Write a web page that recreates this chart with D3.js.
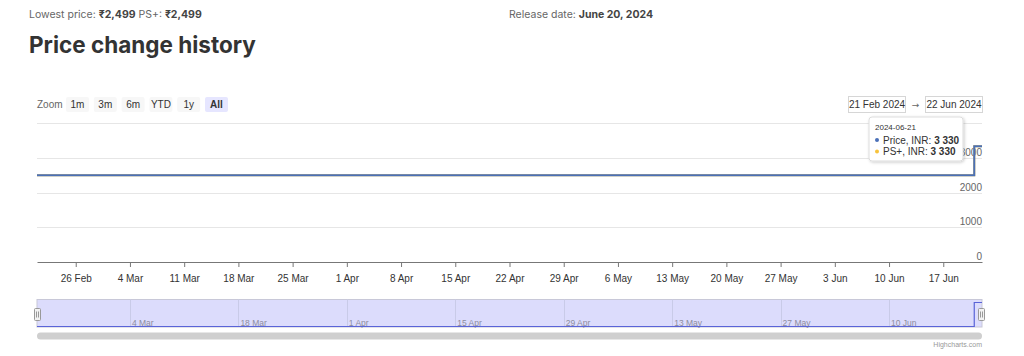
<!DOCTYPE html>
<html>
<head>
<meta charset="utf-8">
<script src="https://cdn.jsdelivr.net/npm/d3@7/dist/d3.min.js"></script>
<style>
  html, body { margin: 0; padding: 0; background: #fff; }
  svg { display: block; }
</style>
</head>
<body>
<svg id="chart" width="1024" height="356"></svg>
<script>
// ---- data ----
const dates = ["2024-02-21", "2024-06-21", "2024-06-22"];
const priceValues = [2499, 3330, 3330];
const psPlusValues = [2499, 3330, 3330];
const yTicks = [0, 1000, 2000, 3000, 4000];
const yTickLabels = ["0", "1000", "2000", "3000", ""];
const zoomButtons = ["1m", "3m", "6m", "YTD", "1y", "All"];
const navTickDates = ["2024-03-04", "2024-03-18", "2024-04-01", "2024-04-15", "2024-04-29", "2024-05-13", "2024-05-27", "2024-06-10"];
const rangeFrom = "21 Feb 2024";
const rangeTo = "22 Jun 2024";
const tooltipDate = "2024-06-21";

const parse = d3.timeParse("%Y-%m-%d");
const priceData = dates.map((d, i) => ({ date: parse(d), value: priceValues[i] }));
const psData = dates.map((d, i) => ({ date: parse(d), value: psPlusValues[i] }));

const svg = d3.select("#chart");
const chartFont = "'Liberation Sans', Arial, sans-serif";
const headFont = "Inter, 'Noto Sans', sans-serif";

// ---- header ----
const h1 = svg.append("text").attr("x", 29).attr("y", 18)
  .style("font-family", headFont).style("font-size", "10.5px").attr("fill", "#666");
h1.append("tspan").text("Lowest price: ");
h1.append("tspan").attr("font-weight", 700).attr("fill", "#444").text("₹2,499");
h1.append("tspan").text(" PS+: ");
h1.append("tspan").attr("font-weight", 700).attr("fill", "#444").text("₹2,499");

const h2 = svg.append("text").attr("x", 509).attr("y", 18)
  .style("font-family", headFont).style("font-size", "10.5px").attr("fill", "#666");
h2.append("tspan").text("Release date: ");
h2.append("tspan").attr("font-weight", 700).attr("fill", "#444").text("June 20, 2024");

svg.append("text").attr("x", 29).attr("y", 53)
  .style("font-family", headFont).style("font-size", "22.5px").attr("font-weight", 700)
  .attr("fill", "#333").text("Price change history");

// ---- scales ----
const x = d3.scaleTime().domain([parse("2024-02-21"), parse("2024-06-22")]).range([37, 982]);
const y = d3.scaleLinear().domain([0, 4000]).range([262, 123]);

// ---- range selector ----
svg.append("text").attr("x", 37).attr("y", 108).style("font-family", chartFont)
  .style("font-size", "10px").attr("fill", "#666").text("Zoom");
const btn = svg.append("g").selectAll("g").data(zoomButtons).join("g")
  .attr("transform", (d, i) => `translate(${66 + i * 27.8},97)`);
btn.append("rect").attr("width", 23).attr("height", 15).attr("rx", 2)
  .attr("fill", (d, i) => i === zoomButtons.length - 1 ? "#e6e6ff" : "#f7f7f7");
btn.append("text").attr("x", 11.5).attr("y", 11).attr("text-anchor", "middle")
  .style("font-family", chartFont).style("font-size", "10px")
  .attr("font-weight", (d, i) => i === zoomButtons.length - 1 ? 700 : 400)
  .attr("fill", "#333").text(d => d);

// date inputs
[[848, rangeFrom], [925, rangeTo]].forEach(([bx, t]) => {
  svg.append("rect").attr("x", bx + 0.5).attr("y", 96.5).attr("width", 57).attr("height", 16)
    .attr("fill", "#fff").attr("stroke", "#d6d6d6");
  svg.append("text").attr("x", bx + 29).attr("y", 108).attr("text-anchor", "middle")
    .style("font-family", chartFont).style("font-size", "10px").attr("fill", "#333").text(t);
});
svg.append("text").attr("x", 915.5).attr("y", 108).attr("text-anchor", "middle")
  .style("font-family", "'DejaVu Sans', sans-serif").style("font-size", "9px").attr("fill", "#666").text("→");

// ---- gridlines ----
svg.append("g").selectAll("line").data(yTicks.slice(1)).join("line")
  .attr("x1", 37).attr("x2", 982)
  .attr("y1", d => Math.round(y(d)) + 0.5).attr("y2", d => Math.round(y(d)) + 0.5)
  .attr("stroke", "#e6e6e6");

// y labels
svg.append("g").selectAll("text").data(yTicks).join("text")
  .attr("x", 982).attr("y", d => y(d) - 2).attr("text-anchor", "end")
  .style("font-family", chartFont).style("font-size", "10px").attr("fill", "#666")
  .text((d, i) => yTickLabels[i]);

// ---- x axis ----
const xAxis = d3.axisBottom(x).ticks(d3.timeMonday.every(1)).tickFormat(d3.timeFormat("%-d %b"))
  .tickSize(5).tickSizeOuter(0);
const gx = svg.append("g").attr("transform", "translate(0,262)").call(xAxis);
gx.select(".domain").attr("stroke", "#777");
gx.selectAll(".tick line").attr("stroke", "#777");
gx.selectAll(".tick text").attr("dy", 0).attr("y", 20)
  .style("font-family", chartFont).style("font-size", "10px").attr("fill", "#333");

// ---- series ----
const line = d3.line().x(d => x(d.date)).y(d => y(d.value)).curve(d3.curveStepAfter);
svg.append("path").datum(psData).attr("d", line).attr("fill", "none")
  .attr("stroke", "#f7c33c").attr("stroke-width", 2);
svg.append("path").datum(priceData).attr("d", line).attr("fill", "none")
  .attr("stroke", "#4a70b8").attr("stroke-width", 2);

// ---- tooltip ----
const defs = svg.append("defs");
const f = defs.append("filter").attr("id", "sh").attr("x", "-20%").attr("y", "-20%")
  .attr("width", "150%").attr("height", "150%");
f.append("feDropShadow").attr("dx", 1).attr("dy", 1).attr("stdDeviation", 1.5)
  .attr("flood-color", "#000").attr("flood-opacity", 0.2);
const tt = svg.append("g").attr("transform", "translate(869,117)");
tt.append("rect").attr("width", 94).attr("height", 44).attr("rx", 3)
  .attr("fill", "#fff").attr("stroke", "#ddd").attr("filter", "url(#sh)");
tt.append("text").attr("x", 6).attr("y", 12.5).style("font-family", chartFont)
  .style("font-size", "8px").attr("fill", "#333").text(tooltipDate);
const ttRows = [["Price, INR: ", priceValues[1], "#4a70b8"], ["PS+, INR: ", psPlusValues[1], "#f7c33c"]];
const fmtSp = v => d3.format(",")(v).replace(/,/g, " ");
ttRows.forEach(([lab, v, c], i) => {
  const ty = 26.5 + i * 11.5;
  tt.append("circle").attr("cx", 8).attr("cy", ty - 3.5).attr("r", 2).attr("fill", c);
  const t = tt.append("text").attr("x", 14).attr("y", ty).style("font-family", chartFont)
    .style("font-size", "10px").attr("fill", "#333");
  t.append("tspan").text(lab);
  t.append("tspan").attr("font-weight", 700).text(fmtSp(v));
});

// ---- navigator ----
const navTop = 299.5, navBottom = 327;
svg.append("rect").attr("x", 37).attr("y", navTop).attr("width", 945).attr("height", navBottom - navTop)
  .attr("fill", "#dcdcfc").attr("stroke", "#c8c8d8");
const navTicks = navTickDates.map(parse);
svg.append("g").selectAll("line").data(navTicks).join("line")
  .attr("x1", d => Math.round(x(d)) + 0.5).attr("x2", d => Math.round(x(d)) + 0.5)
  .attr("y1", navTop).attr("y2", navBottom).attr("stroke", "#c9cbe8");
svg.append("g").selectAll("text").data(navTicks).join("text")
  .attr("x", d => x(d) + 2).attr("y", 326)
  .style("font-family", chartFont).style("font-size", "8.5px").attr("fill", "#8c8c9c")
  .text(d => d3.timeFormat("%-d %b")(d));
const ny = d3.scaleLinear().domain([d3.min(priceValues), d3.max(priceValues)]).range([326.5, 302.5]);
const navLine = d3.line().x(d => x(d.date)).y(d => ny(d.value)).curve(d3.curveStepAfter);
svg.append("path").datum(priceData).attr("d", navLine).attr("fill", "none")
  .attr("stroke", "#5a64d8").attr("stroke-width", 1.2);
// handles
[34, 978].forEach(hx => {
  const g = svg.append("g").attr("transform", `translate(${hx},308.5)`);
  g.append("rect").attr("x", 0.5).attr("width", 6).attr("height", 12).attr("rx", 1)
    .attr("fill", "#f2f2f2").attr("stroke", "#999");
  g.append("line").attr("x1", 2.5).attr("x2", 2.5).attr("y1", 3).attr("y2", 9).attr("stroke", "#999");
  g.append("line").attr("x1", 4.5).attr("x2", 4.5).attr("y1", 3).attr("y2", 9).attr("stroke", "#999");
});

// scrollbar
svg.append("rect").attr("x", 37).attr("y", 332.5).attr("width", 945).attr("height", 7).attr("rx", 3.5)
  .attr("fill", "#cfcfcf");

// credits
svg.append("text").attr("x", 982).attr("y", 347).attr("text-anchor", "end")
  .style("font-family", chartFont).style("font-size", "7px").attr("fill", "#999").text("Highcharts.com");
</script>
</body>
</html>
